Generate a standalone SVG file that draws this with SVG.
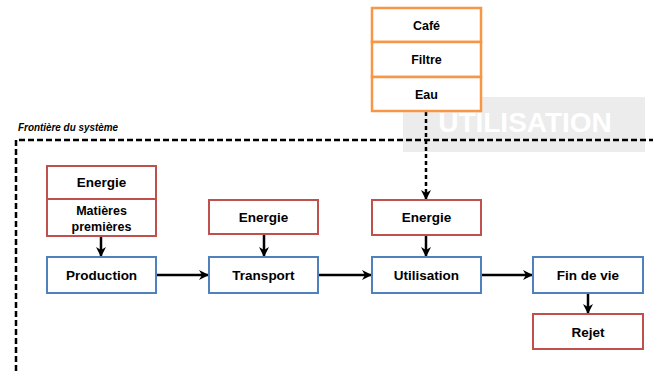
<svg xmlns="http://www.w3.org/2000/svg" width="653" height="371" viewBox="0 0 653 371">
<style>
.t{font-family:"Liberation Sans",Arial,sans-serif;font-weight:bold;font-size:13.5px;fill:#000;text-anchor:middle}
.s{font-size:12.5px}
.red{fill:#fff;stroke:#c0504d;stroke-width:2}
.blue{fill:#fff;stroke:#4f81bd;stroke-width:2}
.org{fill:#fff;stroke:#f79646;stroke-width:2.5}
.c{stroke:#000;stroke-width:2.5;fill:none}
</style>
<defs>
<marker id="ah" viewBox="0 0 10 10" refX="9" refY="5" markerWidth="4" markerHeight="4" orient="auto" markerUnits="strokeWidth">
<path d="M0,0 L10,5 L0,10 L3,5 z" fill="#000"/>
</marker>
</defs>
<rect width="653" height="371" fill="#fff"/>
<g id="watermark">
<rect x="403" y="97" width="242" height="55" fill="#ececec"/>
<text x="525" y="132" font-family="Liberation Sans,Arial,sans-serif" font-weight="bold" font-size="28" fill="#fff" text-anchor="middle">UTILISATION</text>
</g>
<g id="boundary">
<path d="M16,371 V140 H653" fill="none" stroke="#000" stroke-width="2.5" stroke-dasharray="6,3"/>
<text x="18" y="131" font-family="Liberation Sans,Arial,sans-serif" font-weight="bold" font-style="italic" font-size="10" textLength="100" lengthAdjust="spacingAndGlyphs">Frontière du système</text>
</g>
<g id="connectors">
<line class="c" x1="426" y1="112" x2="426" y2="199" stroke-dasharray="4,3" stroke-width="1.8" marker-end="url(#ah)"/>
<line class="c" x1="101" y1="236" x2="101" y2="256" marker-end="url(#ah)"/>
<line class="c" x1="264" y1="234" x2="264" y2="256" marker-end="url(#ah)"/>
<line class="c" x1="426" y1="235" x2="426" y2="256" marker-end="url(#ah)"/>
<line class="c" x1="156" y1="275" x2="208" y2="275" marker-end="url(#ah)"/>
<line class="c" x1="318" y1="275" x2="371" y2="275" marker-end="url(#ah)"/>
<line class="c" x1="481" y1="275" x2="532" y2="275" marker-end="url(#ah)"/>
<line class="c" x1="588" y1="293" x2="588" y2="313" marker-end="url(#ah)"/>
</g>
<g id="inputs-utilisation">
<rect class="org" x="372" y="8" width="109" height="34"/>
<rect class="org" x="372" y="42" width="109" height="35"/>
<rect class="org" x="372" y="77" width="109" height="34"/>
<text class="t s" x="426.5" y="30">Café</text>
<text class="t s" x="426.5" y="64">Filtre</text>
<text class="t s" x="426.5" y="99">Eau</text>
</g>
<g id="inputs-production">
<rect class="red" x="47" y="166" width="109" height="33"/>
<rect class="red" x="47" y="199" width="109" height="37"/>
<text class="t" x="101.5" y="187">Energie</text>
<text class="t s" x="101.5" y="215">Matières</text>
<text class="t s" x="101.5" y="231">premières</text>
</g>
<g id="energie-transport">
<rect class="red" x="209" y="200" width="109" height="34"/>
<text class="t" x="263.5" y="222">Energie</text>
</g>
<g id="energie-utilisation">
<rect class="red" x="372" y="200" width="109" height="35"/>
<text class="t" x="426.5" y="222">Energie</text>
</g>
<g id="production">
<rect class="blue" x="47" y="257" width="109" height="36"/>
<text class="t" x="101.5" y="280">Production</text>
</g>
<g id="transport">
<rect class="blue" x="209" y="257" width="109" height="36"/>
<text class="t" x="263.5" y="280">Transport</text>
</g>
<g id="utilisation">
<rect class="blue" x="372" y="257" width="109" height="36"/>
<text class="t" x="426.5" y="280">Utilisation</text>
</g>
<g id="fin-de-vie">
<rect class="blue" x="533" y="257" width="110" height="36"/>
<text class="t" x="588" y="280">Fin de vie</text>
</g>
<g id="rejet">
<rect class="red" x="533" y="314" width="110" height="35"/>
<text class="t" x="588" y="337">Rejet</text>
</g>
</svg>
